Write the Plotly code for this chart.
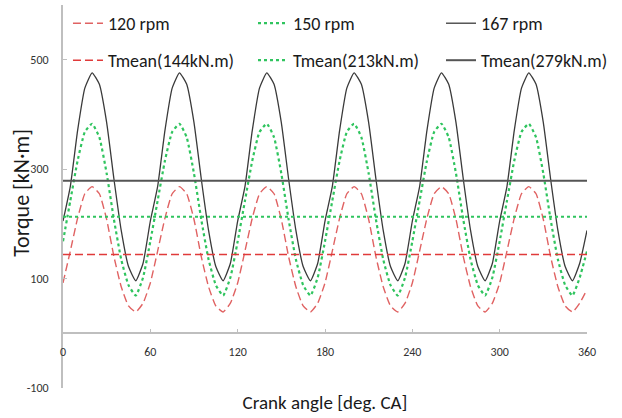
import plotly.graph_objects as go

# Crank angle samples [deg. CA]
angle = list(range(0, 361, 5))

# Instantaneous torque [kN·m] per engine speed
torque_120 = [
    92, 150, 210, 255, 268, 255, 208, 140, 85, 50, 39, 55,
    92, 150, 210, 255, 268, 255, 208, 140, 85, 50, 39, 55,
    92, 150, 210, 255, 268, 255, 208, 140, 85, 50, 39, 55,
    92, 150, 210, 255, 268, 255, 208, 140, 85, 50, 39, 55,
    92, 150, 210, 255, 268, 255, 208, 140, 85, 50, 39, 55,
    92, 150, 210, 255, 268, 255, 208, 140, 85, 50, 39, 55,
    80,
]
torque_150 = [
    168, 242, 315, 368, 383, 358, 292, 208, 135, 88, 69, 102,
    168, 242, 315, 368, 383, 358, 292, 208, 135, 88, 69, 102,
    168, 242, 315, 368, 383, 358, 292, 208, 135, 88, 69, 102,
    168, 242, 315, 368, 383, 358, 292, 208, 135, 88, 69, 102,
    168, 242, 315, 368, 383, 358, 292, 208, 135, 88, 69, 102,
    168, 242, 315, 368, 383, 358, 292, 208, 135, 88, 69, 102,
    150,
]
torque_167 = [
    205, 268, 370, 448, 476, 455, 385, 282, 188, 122, 96, 128,
    205, 268, 370, 448, 476, 455, 385, 282, 188, 122, 96, 128,
    205, 268, 370, 448, 476, 455, 385, 282, 188, 122, 96, 128,
    205, 268, 370, 448, 476, 455, 385, 282, 188, 122, 96, 128,
    205, 268, 370, 448, 476, 455, 385, 282, 188, 122, 96, 128,
    205, 268, 370, 448, 476, 455, 385, 282, 188, 122, 96, 128,
    188,
]

# Mean torque levels [kN·m]
mean_labels = ["Tmean(144kN.m)", "Tmean(213kN.m)", "Tmean(279kN.m)"]
mean_values = [144, 213, 279]
speed_labels = ["120 rpm", "150 rpm", "167 rpm"]

x_ticks = [0, 60, 120, 180, 240, 300, 360]
y_ticks = [-100, 100, 300, 500]

FONT = "Carlito, Calibri, Lato, 'Liberation Sans', sans-serif"

red_curve = dict(color="#e06262", width=1.4, dash="8px,4px")
green_curve = dict(color="#2fc45e", width=2.2, dash="dot")
black_curve = dict(color="#3a3a3a", width=1.3)
red_mean = dict(color="#e03a3a", width=1.4, dash="8px,4px")
green_mean = dict(color="#2fc45e", width=2.2, dash="dot")
black_mean = dict(color="#555555", width=2)

# Legend grid: one legend box per entry (3 columns x 2 rows)
legend_cols = [0.0095, 0.3626, 0.7214]
legend_rows = [1.0, 0.9034]

fig = go.Figure()

for i, (name, ys, ln) in enumerate(zip(speed_labels, [torque_120, torque_150, torque_167],
                                       [red_curve, green_curve, black_curve])):
    fig.add_trace(go.Scatter(x=angle, y=ys, mode="lines", name=name,
                             line=dict(shape="spline", smoothing=0.45, **ln),
                             legend="legend" if i == 0 else f"legend{i + 1}"))

for i, (name, val, ln) in enumerate(zip(mean_labels, mean_values,
                                        [red_mean, green_mean, black_mean])):
    fig.add_trace(go.Scatter(x=[angle[0], angle[-1]], y=[val, val], mode="lines",
                             name=name, line=ln, legend=f"legend{i + 4}"))

legend_common = dict(
    orientation="h", xref="paper", yref="paper", xanchor="left", yanchor="top",
    bgcolor="rgba(0,0,0,0)", font=dict(family=FONT, size=18, color="#1a1a1a"),
    itemwidth=30, itemclick=False, itemdoubleclick=False,
)
legends = {}
for k in range(6):
    key = "legend" if k == 0 else f"legend{k + 1}"
    legends[key] = dict(x=legend_cols[k % 3], y=legend_rows[k // 3], **legend_common)

fig.update_layout(
    width=622, height=418,
    margin=dict(l=63, r=35, t=5, b=30, autoexpand=False),
    paper_bgcolor="white", plot_bgcolor="white",
    font=dict(family=FONT, color="#333333"),
    xaxis=dict(
        range=[0, 360], tickvals=x_ticks, ticktext=[str(v) for v in x_ticks],
        anchor="free", position=100 / 700, automargin=False,
        showline=True, linecolor="#bfbfbf", linewidth=1.5,
        ticks="inside", ticklen=4, tickcolor="#bfbfbf", tickwidth=1.2,
        showgrid=False, zeroline=False, ticklabelstandoff=8,
        tickfont=dict(family=FONT, size=12, color="#333333"),
        title=dict(text="Crank angle [deg. CA]", standoff=36,
                   font=dict(family=FONT, size=19, color="#1a1a1a")),
    ),
    yaxis=dict(
        range=[-100, 600], tickvals=y_ticks, ticktext=[str(v) for v in y_ticks],
        automargin=False,
        showline=True, linecolor="#bfbfbf", linewidth=2,
        ticks="inside", ticklen=4, tickcolor="#bfbfbf", tickwidth=1.2,
        showgrid=False, zeroline=False, ticklabelstandoff=10,
        tickfont=dict(family=FONT, size=12, color="#333333"),
    ),
    annotations=[dict(
        text="Torque [kN·m]", textangle=-90, xref="paper", yref="paper",
        x=-41 / 524, y=0.51, xanchor="center", yanchor="middle", showarrow=False,
        font=dict(family=FONT, size=22, color="#1a1a1a"),
    )],
    showlegend=True,
    **legends,
)

fig.write_html("out.html")
